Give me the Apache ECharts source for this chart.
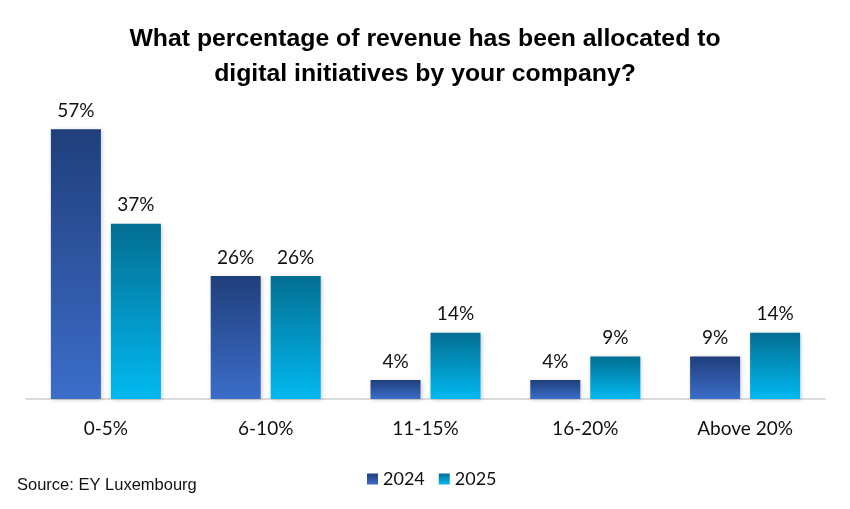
<!DOCTYPE html>
<html>
<head>
<meta charset="utf-8">
<script src="https://cdn.jsdelivr.net/npm/echarts@6/dist/echarts.min.js"></script>
<style>
html,body{margin:0;padding:0;background:#fff;}
#main{width:850px;height:509px;}
</style>
</head>
<body>
<div id="main"></div>
<script>
var categories = ['0-5%', '6-10%', '11-15%', '16-20%', 'Above 20%'];
var values2024 = [57, 26, 4, 4, 9];
var values2025 = [37, 26, 14, 9, 14];
var seriesNames = ['2024', '2025'];

var chart = echarts.init(document.getElementById('main'));

function grad(top, bottom) {
    return new echarts.graphic.LinearGradient(0, 0, 0, 1, [
        {offset: 0, color: top},
        {offset: 1, color: bottom}
    ]);
}

var labelStyle = {
    show: true,
    position: 'top',
    distance: 9,
    formatter: '{c}%',
    fontFamily: 'Lato, "Open Sans", sans-serif',
    fontSize: 19,
    color: '#111'
};

chart.setOption({
    animation: false,
    title: {
        text: 'What percentage of revenue has been allocated to\ndigital initiatives by your company?',
        left: 'center',
        top: 17,
        textStyle: {
            fontFamily: '"Liberation Sans", Arial, sans-serif',
            fontSize: 24.8,
            fontWeight: 'bold',
            color: '#000',
            lineHeight: 35
        }
    },
    graphic: [{
        type: 'text',
        left: 17,
        top: 477,
        style: {
            text: 'Source: EY Luxembourg',
            font: '16.5px "Liberation Sans", Arial, sans-serif',
            fill: '#111'
        }
    }],
    legend: {
        data: seriesNames,
        icon: 'rect',
        left: 362,
        top: 465,
        itemWidth: 11,
        itemHeight: 11,
        itemGap: 14,
        textStyle: {
            fontFamily: 'Lato, "Open Sans", sans-serif',
            fontSize: 18,
            color: '#111'
        }
    },
    grid: {
        left: 26,
        right: 25,
        top: 115,
        bottom: 110
    },
    xAxis: {
        type: 'category',
        data: categories,
        axisTick: {show: false},
        axisLine: {lineStyle: {color: '#d0d0d0', width: 1.5}},
        axisLabel: {
            margin: 20,
            fontFamily: 'Lato, "Open Sans", sans-serif',
            fontSize: 19,
            color: '#111'
        }
    },
    yAxis: {
        type: 'value',
        min: 0,
        max: 60,
        show: false,
        splitLine: {show: false}
    },
    series: [
        {
            name: seriesNames[0],
            type: 'bar',
            data: values2024,
            barWidth: 50,
            barGap: '20%',
            itemStyle: {
                color: grad('#203f7c', '#3b6dc9'),
                shadowBlur: 4,
                shadowOffsetX: 1,
                shadowOffsetY: 1,
                shadowColor: 'rgba(0,0,0,0.2)'
            },
            label: labelStyle
        },
        {
            name: seriesNames[1],
            type: 'bar',
            data: values2025,
            barWidth: 50,
            itemStyle: {
                color: grad('#036e92', '#01b9f1'),
                shadowBlur: 4,
                shadowOffsetX: 1,
                shadowOffsetY: 1,
                shadowColor: 'rgba(0,0,0,0.2)'
            },
            label: labelStyle
        }
    ]
});
</script>
</body>
</html>
